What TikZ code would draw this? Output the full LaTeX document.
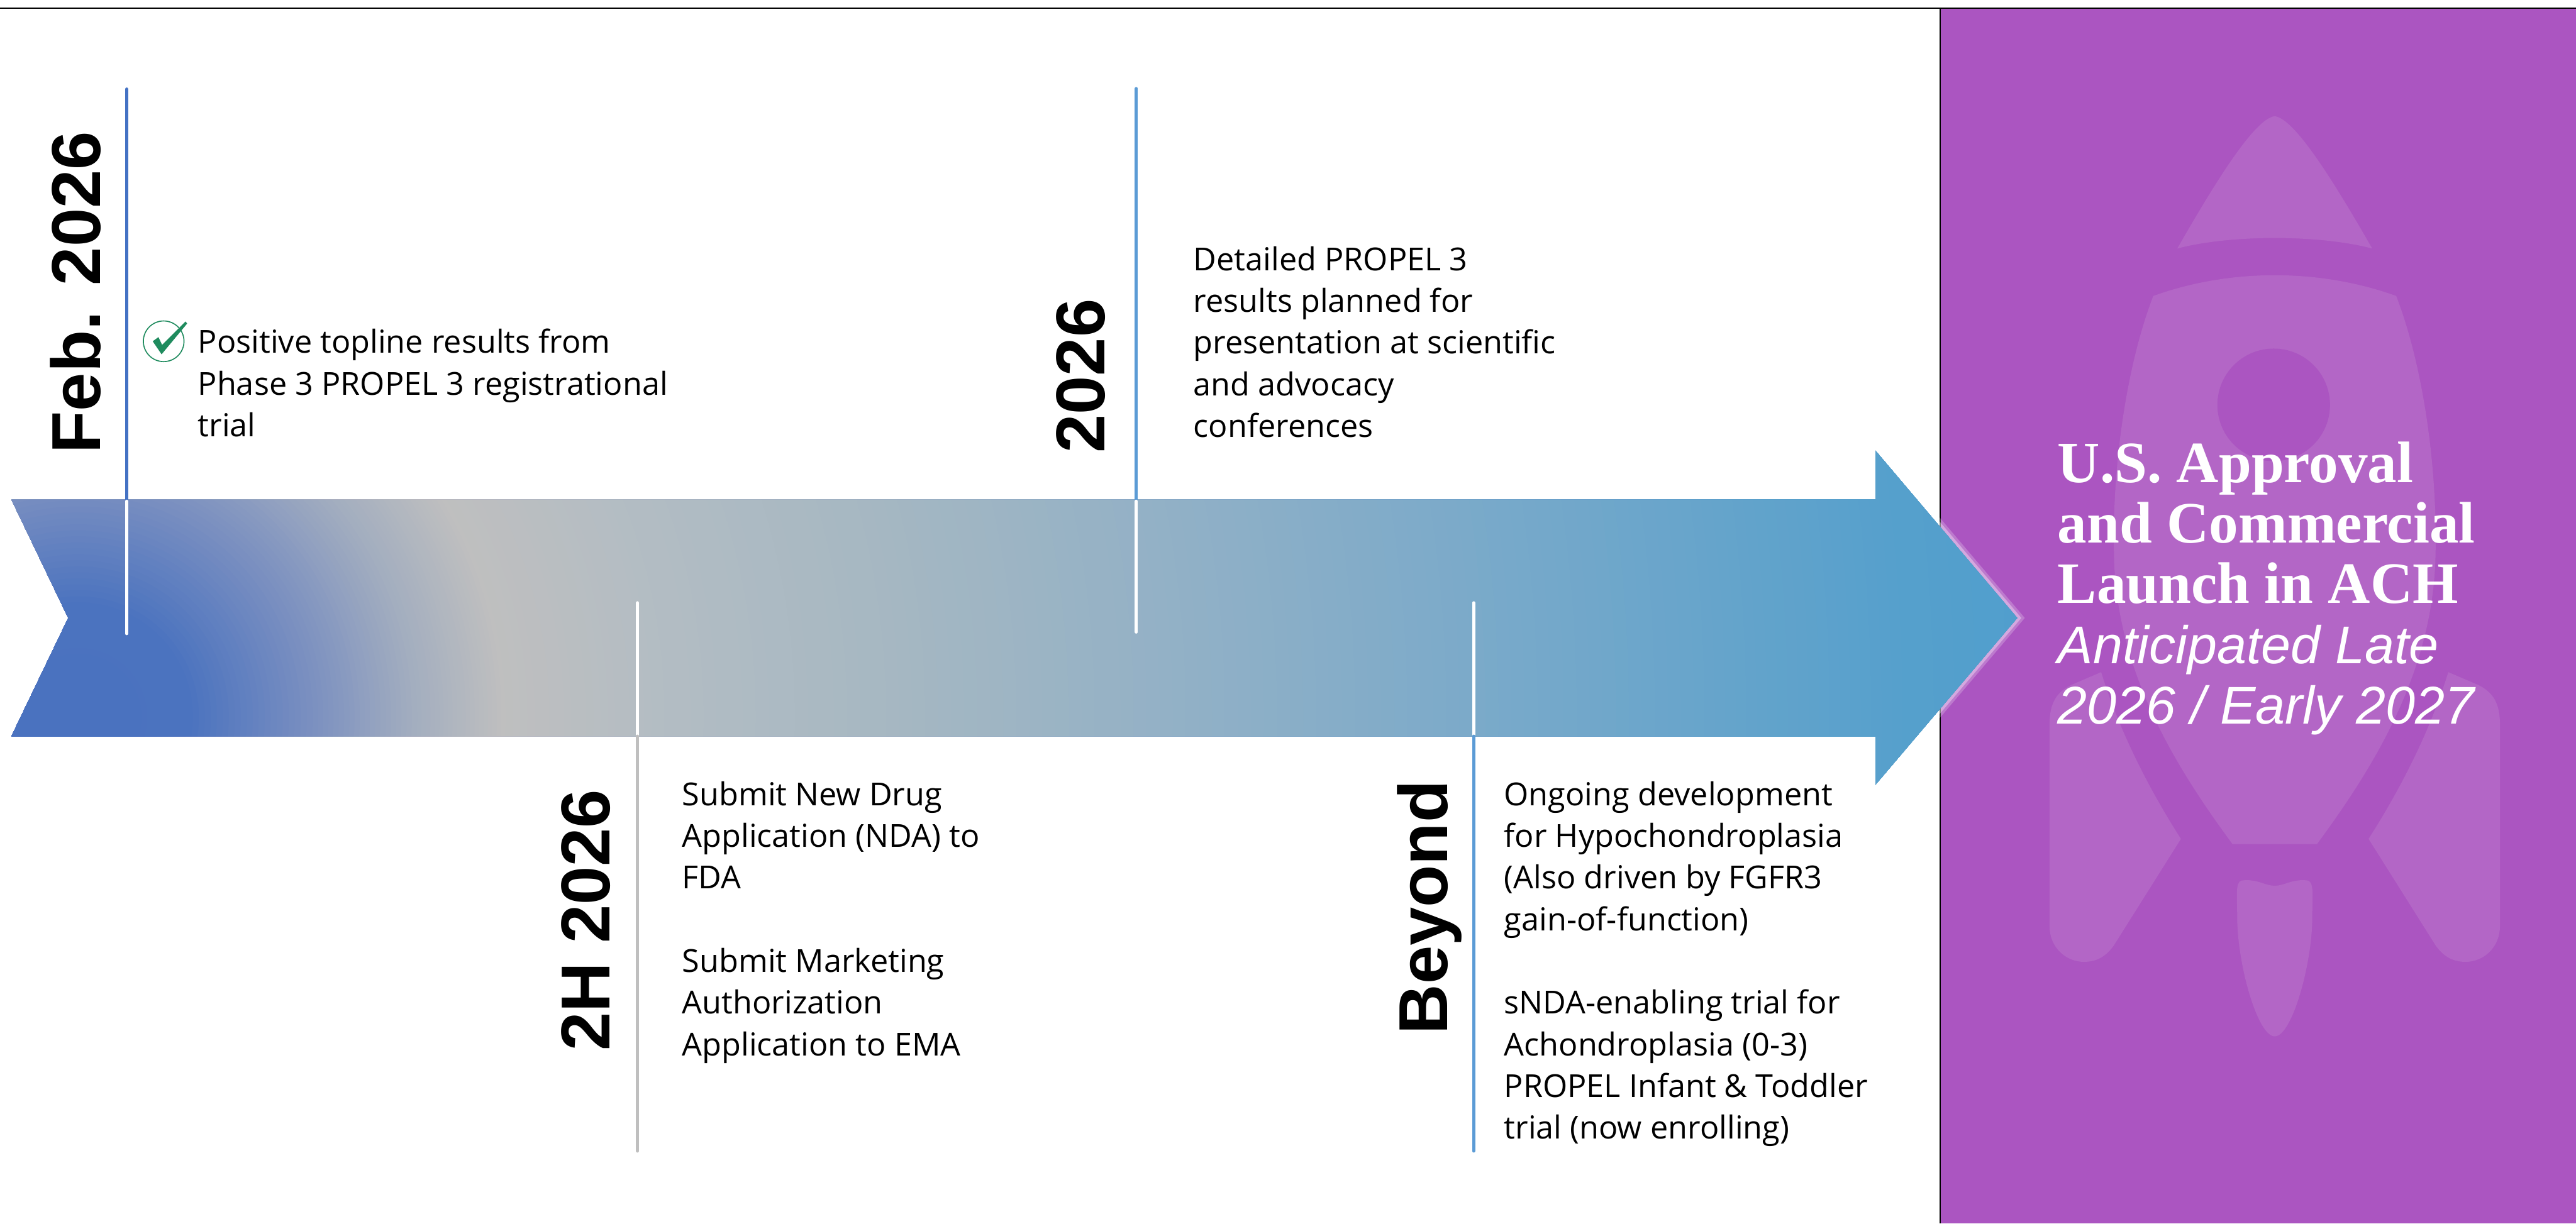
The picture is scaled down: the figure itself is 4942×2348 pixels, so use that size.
\documentclass[tikz,border=0pt]{standalone}
\usepackage{fontspec}
\setmainfont{Open Sans}
\newfontfamily\arialfont{Liberation Sans}
\newfontfamily\timesfont{Liberation Serif}
\definecolor{panelpurple}{HTML}{AB55C1}
\definecolor{rocketpurple}{HTML}{B366C6}
\definecolor{tickblue}{HTML}{4472C4}
\definecolor{ticksky}{HTML}{5B9BD5}
\definecolor{tickgray}{HTML}{BFBFBF}
\definecolor{checkgreen}{HTML}{1F8B5E}
% colour stops of the radial fill of the timeline arrow
\definecolor{g00}{HTML}{4A72BF}
\definecolor{g01}{HTML}{4B73BF}
\definecolor{g02}{HTML}{7A8FC0}
\definecolor{g03}{HTML}{A3AEBF}
\definecolor{g04}{HTML}{BFBFBF}
\definecolor{g05}{HTML}{B4BDC3}
\definecolor{g06}{HTML}{A5B7C2}
\definecolor{g07}{HTML}{93B1C6}
\definecolor{g08}{HTML}{7FABC9}
\definecolor{g09}{HTML}{69A5CB}
\definecolor{g10}{HTML}{56A0CC}
\definecolor{g11}{HTML}{4D9DCD}
\begin{document}
\begin{tikzpicture}[x=0.1mm,y=-0.1mm,
  marklabel/.style={rotate=90,anchor=base west,inner sep=0pt,
    font=\arialfont\bfseries\fontsize{37.8pt}{40pt}\selectfont},
  bodytext/.style={anchor=base west,inner sep=0pt,
    font=\fontsize{17.3pt}{22.76pt}\selectfont},
  tick/.style={line width=0.62mm,line cap=round},
]
\useasboundingbox (0,0) rectangle (4942,2348);
\fill[white] (0,0) rectangle (4942,2348);

% ---------- launch panel with rocket ----------
\fill[panelpurple] (3722,16) rectangle (4942,2348);
\begin{scope}[fill=rocketpurple]
  % nose cone
  \fill (4177,477) .. controls (4250,350) and (4325,228) .. (4364,223)
        .. controls (4403,228) and (4478,350) .. (4551,477)
        .. controls (4450,450) and (4278,450) .. cycle;
  % body
  \fill (4131,568) .. controls (4080,700) and (4050,900) .. (4056,1080)
        .. controls (4065,1300) and (4180,1480) .. (4283,1620)
        -- (4445,1620)
        .. controls (4548,1480) and (4663,1300) .. (4672,1080)
        .. controls (4678,900) and (4648,700) .. (4597,568)
        .. controls (4450,515) and (4278,515) .. cycle;
  % fins
  \fill (4031,1290) -- (3975,1314) .. controls (3945,1328) and (3932,1350) .. (3932,1390)
        -- (3932,1777) .. controls (3932,1820) and (3965,1846) .. (3998,1846)
        .. controls (4025,1846) and (4042,1833) .. (4055,1815) -- (4184,1610)
        .. controls (4120,1510) and (4065,1400) .. cycle;
  \fill (4697,1290) -- (4753,1314) .. controls (4783,1328) and (4796,1350) .. (4796,1390)
        -- (4796,1777) .. controls (4796,1820) and (4763,1846) .. (4730,1846)
        .. controls (4703,1846) and (4686,1833) .. (4673,1815) -- (4544,1610)
        .. controls (4608,1510) and (4663,1400) .. cycle;
  % exhaust flame
  \fill (4300,1690) .. controls (4330,1686) and (4345,1700) .. (4364,1700)
        .. controls (4383,1700) and (4398,1686) .. (4428,1690)
        .. controls (4440,1695) and (4436,1720) .. (4436,1760)
        .. controls (4436,1850) and (4397,1989) .. (4364,1989)
        .. controls (4331,1989) and (4292,1850) .. (4292,1760)
        .. controls (4292,1720) and (4288,1694) .. cycle;
\end{scope}
% porthole
\fill[panelpurple] (4362,777) circle (108);

% frame lines
\draw[black,line width=0.3mm] (3722,16) -- (3722,2348);
\draw[black,line width=0.3mm] (0,16) -- (4942,16);

% ---------- timeline arrow ----------
\coordinate (atl) at (22,959);
\coordinate (abr) at (3598,959);
\coordinate (aht) at (3598,865);
\coordinate (tip) at (3870,1186);
\coordinate (ahb) at (3598,1506);
\coordinate (abb) at (3598,1413);
\coordinate (abl) at (22,1413);
\coordinate (notch) at (131,1186);
\coordinate (glowc) at (150,1376);

% soft light rim round the arrow head
\draw[white,opacity=0.22,line width=2.2mm,line join=miter] (aht) -- (tip) -- (ahb);
\draw[white,opacity=0.35,line width=1.2mm,line join=miter] (aht) -- (tip) -- (ahb);

\begin{scope}
  \clip (atl) -- (abr) -- (aht) -- (tip) -- (ahb) -- (abb) -- (abl) -- (notch) -- cycle;
  \foreach \ro/\ri/\co/\ci in {3900/3500/g11/g10, 3500/3100/g10/g09, 3100/2600/g09/g08,
      2600/2100/g08/g07, 2100/1600/g07/g06, 1600/1100/g06/g05, 1100/820/g05/g04,
      820/650/g04/g03, 650/450/g03/g02, 450/220/g02/g01, 220/0/g01/g00}{
    \foreach \k in {0,...,19}{
      \pgfmathsetmacro\rr{\ro-(\ro-\ri)*\k/20}
      \pgfmathsetmacro\pp{5*\k}
      \fill[\ci!\pp!\co] (glowc) circle (\rr);
    }
  }
\end{scope}

% ---------- milestone ticks ----------
\coordinate (febtop) at (243,171);
\coordinate (febedge) at (243,959);
\coordinate (febend) at (243,1216);
\coordinate (yrtop) at (2180,170);
\coordinate (yredge) at (2180,959);
\coordinate (yrend) at (2180,1213);
\coordinate (hstart) at (1223,1157);
\coordinate (hedge) at (1223,1413);
\coordinate (hend) at (1223,2209);
\coordinate (bstart) at (2827,1157);
\coordinate (bedge) at (2827,1413);
\coordinate (bend) at (2827,2209);

\draw[tick,tickblue] (febtop) -- (febedge);
\draw[tick,white] ([yshift=-0.3mm]febedge) -- (febend);
\draw[tick,ticksky] (yrtop) -- (yredge);
\draw[tick,white] ([yshift=-0.3mm]yredge) -- (yrend);
\draw[tick,white] (hstart) -- ([yshift=0.3mm]hedge);
\draw[tick,tickgray] (hedge) -- (hend);
\draw[tick,white] (bstart) -- ([yshift=0.3mm]bedge);
\draw[tick,ticksky] (bedge) -- (bend);

% ---------- milestone labels ----------
\node[marklabel] (lfeb) at (192,871) {Feb. 2026};
\node[marklabel] (lyear) at (2119,870) {2026};
\node[marklabel] (lhalf) at (1170,2018) {2H 2026};
\node[marklabel] (lbeyond) at (2777,1986) {Beyond};

% done mark
\draw[checkgreen,line width=0.2mm] (314,655) circle (39);
\fill[checkgreen] (293,655) -- (304,647) -- (311,662) -- (356,617) -- (359,621)
      -- (310,680) -- cycle;

\node[bodytext] (tfeb) at (379,678) {\parbox[t]{14cm}{\raggedright
  Positive topline results from\\
  Phase 3 PROPEL 3 registrational\\
  trial}};
\node[bodytext] (tyear) at (2289,519) {\parbox[t]{14cm}{\raggedright
  Detailed PROPEL 3\\
  results planned for\\
  presentation at scientific\\
  and advocacy\\
  conferences}};
\node[bodytext] (thalf) at (1308,1546) {\parbox[t]{14cm}{\raggedright
  Submit New Drug\\
  Application (NDA) to\\
  FDA\\[\baselineskip]
  Submit Marketing\\
  Authorization\\
  Application to EMA}};
\node[bodytext] (tbeyond) at (2885,1546) {\parbox[t]{14cm}{\raggedright
  Ongoing development\\
  for Hypochondroplasia\\
  (Also driven by FGFR3\\
  gain-of-function)\\[\baselineskip]
  sNDA-enabling trial for\\
  Achondroplasia (0-3)\\
  PROPEL Infant \& Toddler\\
  trial (now enrolling)}};

% ---------- launch headline ----------
\node[anchor=base west,inner sep=0pt,text=white] (launch) at (3947,926)
  {\parbox[t]{11cm}{\raggedright
   \timesfont\bfseries\fontsize{32pt}{33pt}\selectfont
   U.S. Approval\\
   and Commercial\\
   Launch in ACH\\
   \arialfont\mdseries\itshape\fontsize{29pt}{33pt}\selectfont
   Anticipated Late\\
   2026 / Early 2027}};
\end{tikzpicture}
\end{document}
